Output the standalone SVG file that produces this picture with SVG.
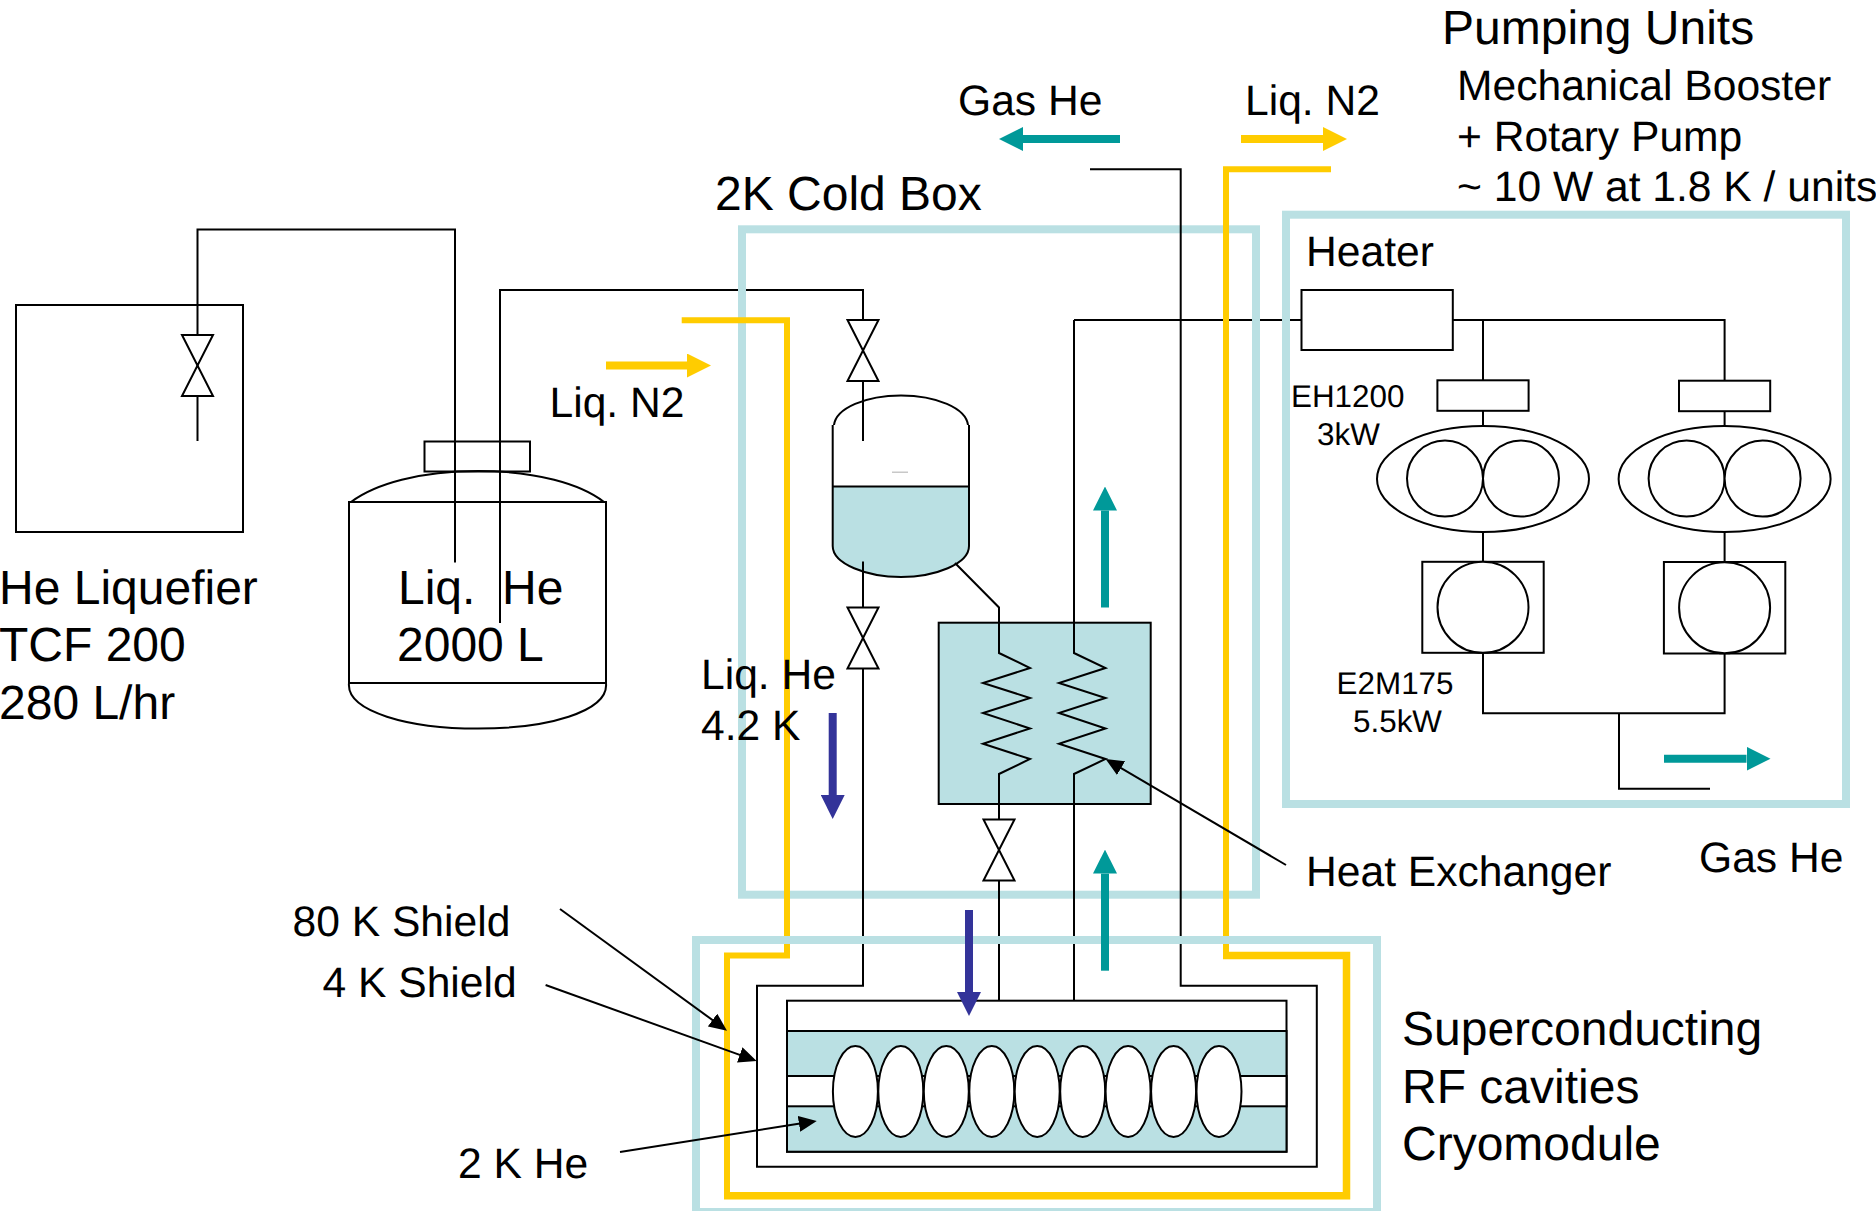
<svg xmlns="http://www.w3.org/2000/svg" width="1876" height="1211" viewBox="0 0 1876 1211">
<style>
text{font-family:"Liberation Sans",Arial,sans-serif;fill:#000;text-rendering:geometricPrecision}
.a{font-size:48px}.b{font-size:42.6px}.c{font-size:31.4px}
.l{fill:none;stroke:#000;stroke-width:2}
.w{fill:#fff;stroke:#000;stroke-width:2}
.f{fill:#BAE0E3;stroke:#000;stroke-width:2}
.box{fill:none;stroke:#BAE0E3;stroke-width:8}
.y{fill:none;stroke:#FFCC00;stroke-width:6}
.y7{fill:none;stroke:#FFCC00;stroke-width:7.500}
.ya{stroke:#FFCC00;stroke-width:8;marker-end:url(#my)}
.ta{stroke:#009999;stroke-width:8;marker-end:url(#mt)}
.ba{stroke:#333399;stroke-width:8;marker-end:url(#mb)}
.p{stroke:#000;stroke-width:2;marker-end:url(#mk)}
</style>
<defs>
<marker id="my" markerUnits="userSpaceOnUse" markerWidth="24" markerHeight="24" refX="0" refY="12" orient="auto"><path d="M0 0L24 12L0 24z" fill="#FFCC00"/></marker>
<marker id="mt" markerUnits="userSpaceOnUse" markerWidth="24" markerHeight="24" refX="0" refY="12" orient="auto"><path d="M0 0L24 12L0 24z" fill="#009999"/></marker>
<marker id="mb" markerUnits="userSpaceOnUse" markerWidth="24" markerHeight="24" refX="0" refY="12" orient="auto"><path d="M0 0L24 12L0 24z" fill="#333399"/></marker>
<marker id="mk" markerUnits="userSpaceOnUse" markerWidth="18" markerHeight="16" refX="14" refY="8" orient="auto"><path d="M0 0L18 8L0 16z" fill="#000"/></marker>
<path id="valve" d="M-15.500 0H15.500L-15.500 61H15.500z" class="w"/>
</defs>

<g id="liquefier"><rect class="l" x="16" y="305" width="227" height="227"/></g>

<g id="connectors-under">
<path class="l" d="M500 623V290H863V320"/>
<path class="l" d="M1074 320H1302"/>
</g>

<g id="cold-box"><rect class="box" x="742" y="229.300" width="514" height="665.400"/></g>

<g id="tank">
<path class="l" d="M351 502C375 484 420 471 478 471C536 471 581 484 604 502"/>
<rect class="l" x="349" y="502" width="257" height="181"/>
<path class="l" d="M349 683C346 712 410 728.600 478 728.600C546 728.600 609 712 606 683"/>
<rect class="l" x="424.500" y="441.500" width="105.500" height="30"/>
</g>

<g id="separator">
<path d="M832.700 486.500H969V546C969 564 935 577 901 577C867 577 832.700 564 832.700 546z" fill="#BAE0E3"/>
<path class="l" d="M832.700 425V546C832.700 564 867 577 901 577C935 577 969 564 969 546V425M833 486.500H969"/>
<path class="l" d="M834 425C836 408 866 395.400 901 395.400C936 395.400 966 408 968 425"/>
<rect x="892" y="471.500" width="16" height="1.500" fill="#c8c8c8"/>
</g>

<g id="heat-exchanger"><rect class="f" x="938.700" y="622.700" width="212" height="181.300"/></g>

<g id="connectors">
<path class="l" d="M197.500 441V229.500H455V562.500"/>
<path class="l" d="M863 380V441M863 561.500V985.700H757V1166.700H1316.800V985.700H1180.700V169.300H1090"/>
<path class="l" d="M955 563L999 607.500V653L1030 668L983 683L1030 698L983 713L1030 728.500L983 743.700L1030 759L999 774V1000.700"/>
<path class="l" d="M1074 320V653L1105.500 668L1059 683L1105.500 698L1059 713L1105.500 728.500L1059 743.700L1105.500 759L1074 774V1000.700"/>
<path class="l" d="M1452.800 320H1724.600V653.500V713.300H1483V320M1619 713.300V788.800H1710"/>
<path class="y" d="M681.700 320.300H787V955.500H727V1196.700"/>
<path class="y" d="M1226 955.500V169.300H1331"/>
<path class="y7" d="M724 1195.700H1346.500V955.500H1223"/>
</g>

<g id="valves">
<use href="#valve" x="197.500" y="335"/>
<use href="#valve" x="863" y="320"/>
<use href="#valve" x="863" y="607.500"/>
<use href="#valve" x="999" y="819.500"/>
</g>

<g id="pump-box"><rect class="box" x="1286" y="214.700" width="560" height="589.300"/></g>
<g id="heater"><rect class="w" x="1301.500" y="290" width="151.300" height="60"/></g>
<g id="booster-left">
<rect class="w" x="1437.400" y="380.300" width="91.200" height="30.500"/>
<ellipse class="w" cx="1483" cy="479" rx="106" ry="53"/>
<circle class="w" cx="1445" cy="478.600" r="38"/><circle class="w" cx="1521" cy="478.600" r="38"/>
</g>
<g id="booster-right">
<rect class="w" x="1679" y="380.700" width="91.200" height="30.500"/>
<ellipse class="w" cx="1724.600" cy="479" rx="106" ry="53"/>
<circle class="w" cx="1686.600" cy="478.600" r="38"/><circle class="w" cx="1762.600" cy="478.600" r="38"/>
</g>
<g id="rotary-left">
<rect class="w" x="1422.300" y="561.800" width="121.400" height="91"/>
<circle class="w" cx="1483" cy="607.300" r="45.500"/>
</g>
<g id="rotary-right">
<rect class="w" x="1663.900" y="562" width="121.400" height="91.500"/>
<circle class="w" cx="1724.600" cy="607.800" r="45.500"/>
</g>

<g id="cryomodule">
<rect class="box" x="696" y="940" width="681" height="272"/>
<rect class="w" x="787" y="1000.700" width="499.500" height="151"/>
<rect class="f" x="787" y="1031" width="499.500" height="120.700"/>
<rect class="w" x="787" y="1076" width="499.500" height="30.300"/>
<g class="w">
<ellipse cx="855.400" cy="1091.500" rx="22.500" ry="45.500"/>
<ellipse cx="900.800" cy="1091.500" rx="22.500" ry="45.500"/>
<ellipse cx="946.300" cy="1091.500" rx="22.500" ry="45.500"/>
<ellipse cx="991.800" cy="1091.500" rx="22.500" ry="45.500"/>
<ellipse cx="1037.200" cy="1091.500" rx="22.500" ry="45.500"/>
<ellipse cx="1082.700" cy="1091.500" rx="22.500" ry="45.500"/>
<ellipse cx="1128.100" cy="1091.500" rx="22.500" ry="45.500"/>
<ellipse cx="1173.600" cy="1091.500" rx="22.500" ry="45.500"/>
<ellipse cx="1219" cy="1091.500" rx="22.500" ry="45.500"/>
</g>
</g>

<g id="arrows">
<line class="ya" x1="606" y1="365.500" x2="687" y2="365.500"/>
<line class="ya" x1="1241" y1="139" x2="1323" y2="139"/>
<line class="ta" x1="1120" y1="139" x2="1023" y2="139"/>
<line class="ta" x1="1105" y1="607.500" x2="1105" y2="510.500"/>
<line class="ta" x1="1105" y1="970.700" x2="1105" y2="873.600"/>
<line class="ta" x1="1664" y1="758.700" x2="1746.500" y2="758.700"/>
<line class="ba" x1="832.700" y1="713" x2="832.700" y2="795"/>
<line class="ba" x1="969" y1="910" x2="969" y2="992"/>
<line class="p" x1="560" y1="909" x2="723.800" y2="1028.300"/>
<line class="p" x1="545.600" y1="985" x2="752.900" y2="1059.600"/>
<line class="p" x1="620" y1="1152" x2="812.800" y2="1121.600"/>
<line class="p" x1="1286" y1="865" x2="1109" y2="761"/>
</g>

<g id="labels">
<text class="a" x="-1" y="604">He Liquefier</text>
<text class="a" x="-1" y="661">TCF 200</text>
<text class="a" x="-1" y="719">280 L/hr</text>
<text class="a" x="398" y="604" xml:space="preserve">Liq.  He</text>
<text class="a" x="397" y="661">2000 L</text>
<text class="a" x="715" y="210">2K Cold Box</text>
<text class="a" x="1442" y="44">Pumping Units</text>
<text class="b" x="1457" y="100">Mechanical Booster</text>
<text class="b" x="1457" y="151">+ Rotary Pump</text>
<text class="b" x="1457" y="201">~ 10 W at 1.8 K / units</text>
<text class="b" x="958" y="115">Gas He</text>
<text class="b" x="1245" y="115">Liq. N2</text>
<text class="b" x="549.500" y="417">Liq. N2</text>
<text class="b" x="701" y="689">Liq. He</text>
<text class="b" x="701" y="740">4.2 K</text>
<text class="b" x="1306" y="266">Heater</text>
<text class="c" x="1291" y="407">EH1200</text>
<text class="c" x="1317" y="445">3kW</text>
<text class="c" x="1336.600" y="694">E2M175</text>
<text class="c" x="1353" y="732">5.5kW</text>
<text class="b" x="1306" y="885.500">Heat Exchanger</text>
<text class="b" x="1699" y="871.500">Gas He</text>
<text class="b" x="292.500" y="936">80 K Shield</text>
<text class="b" x="322.500" y="997">4 K Shield</text>
<text class="b" x="458" y="1178">2 K He</text>
<text class="a" x="1402" y="1045">Superconducting</text>
<text class="a" x="1402" y="1103">RF cavities</text>
<text class="a" x="1402" y="1160">Cryomodule</text>
</g>
</svg>
